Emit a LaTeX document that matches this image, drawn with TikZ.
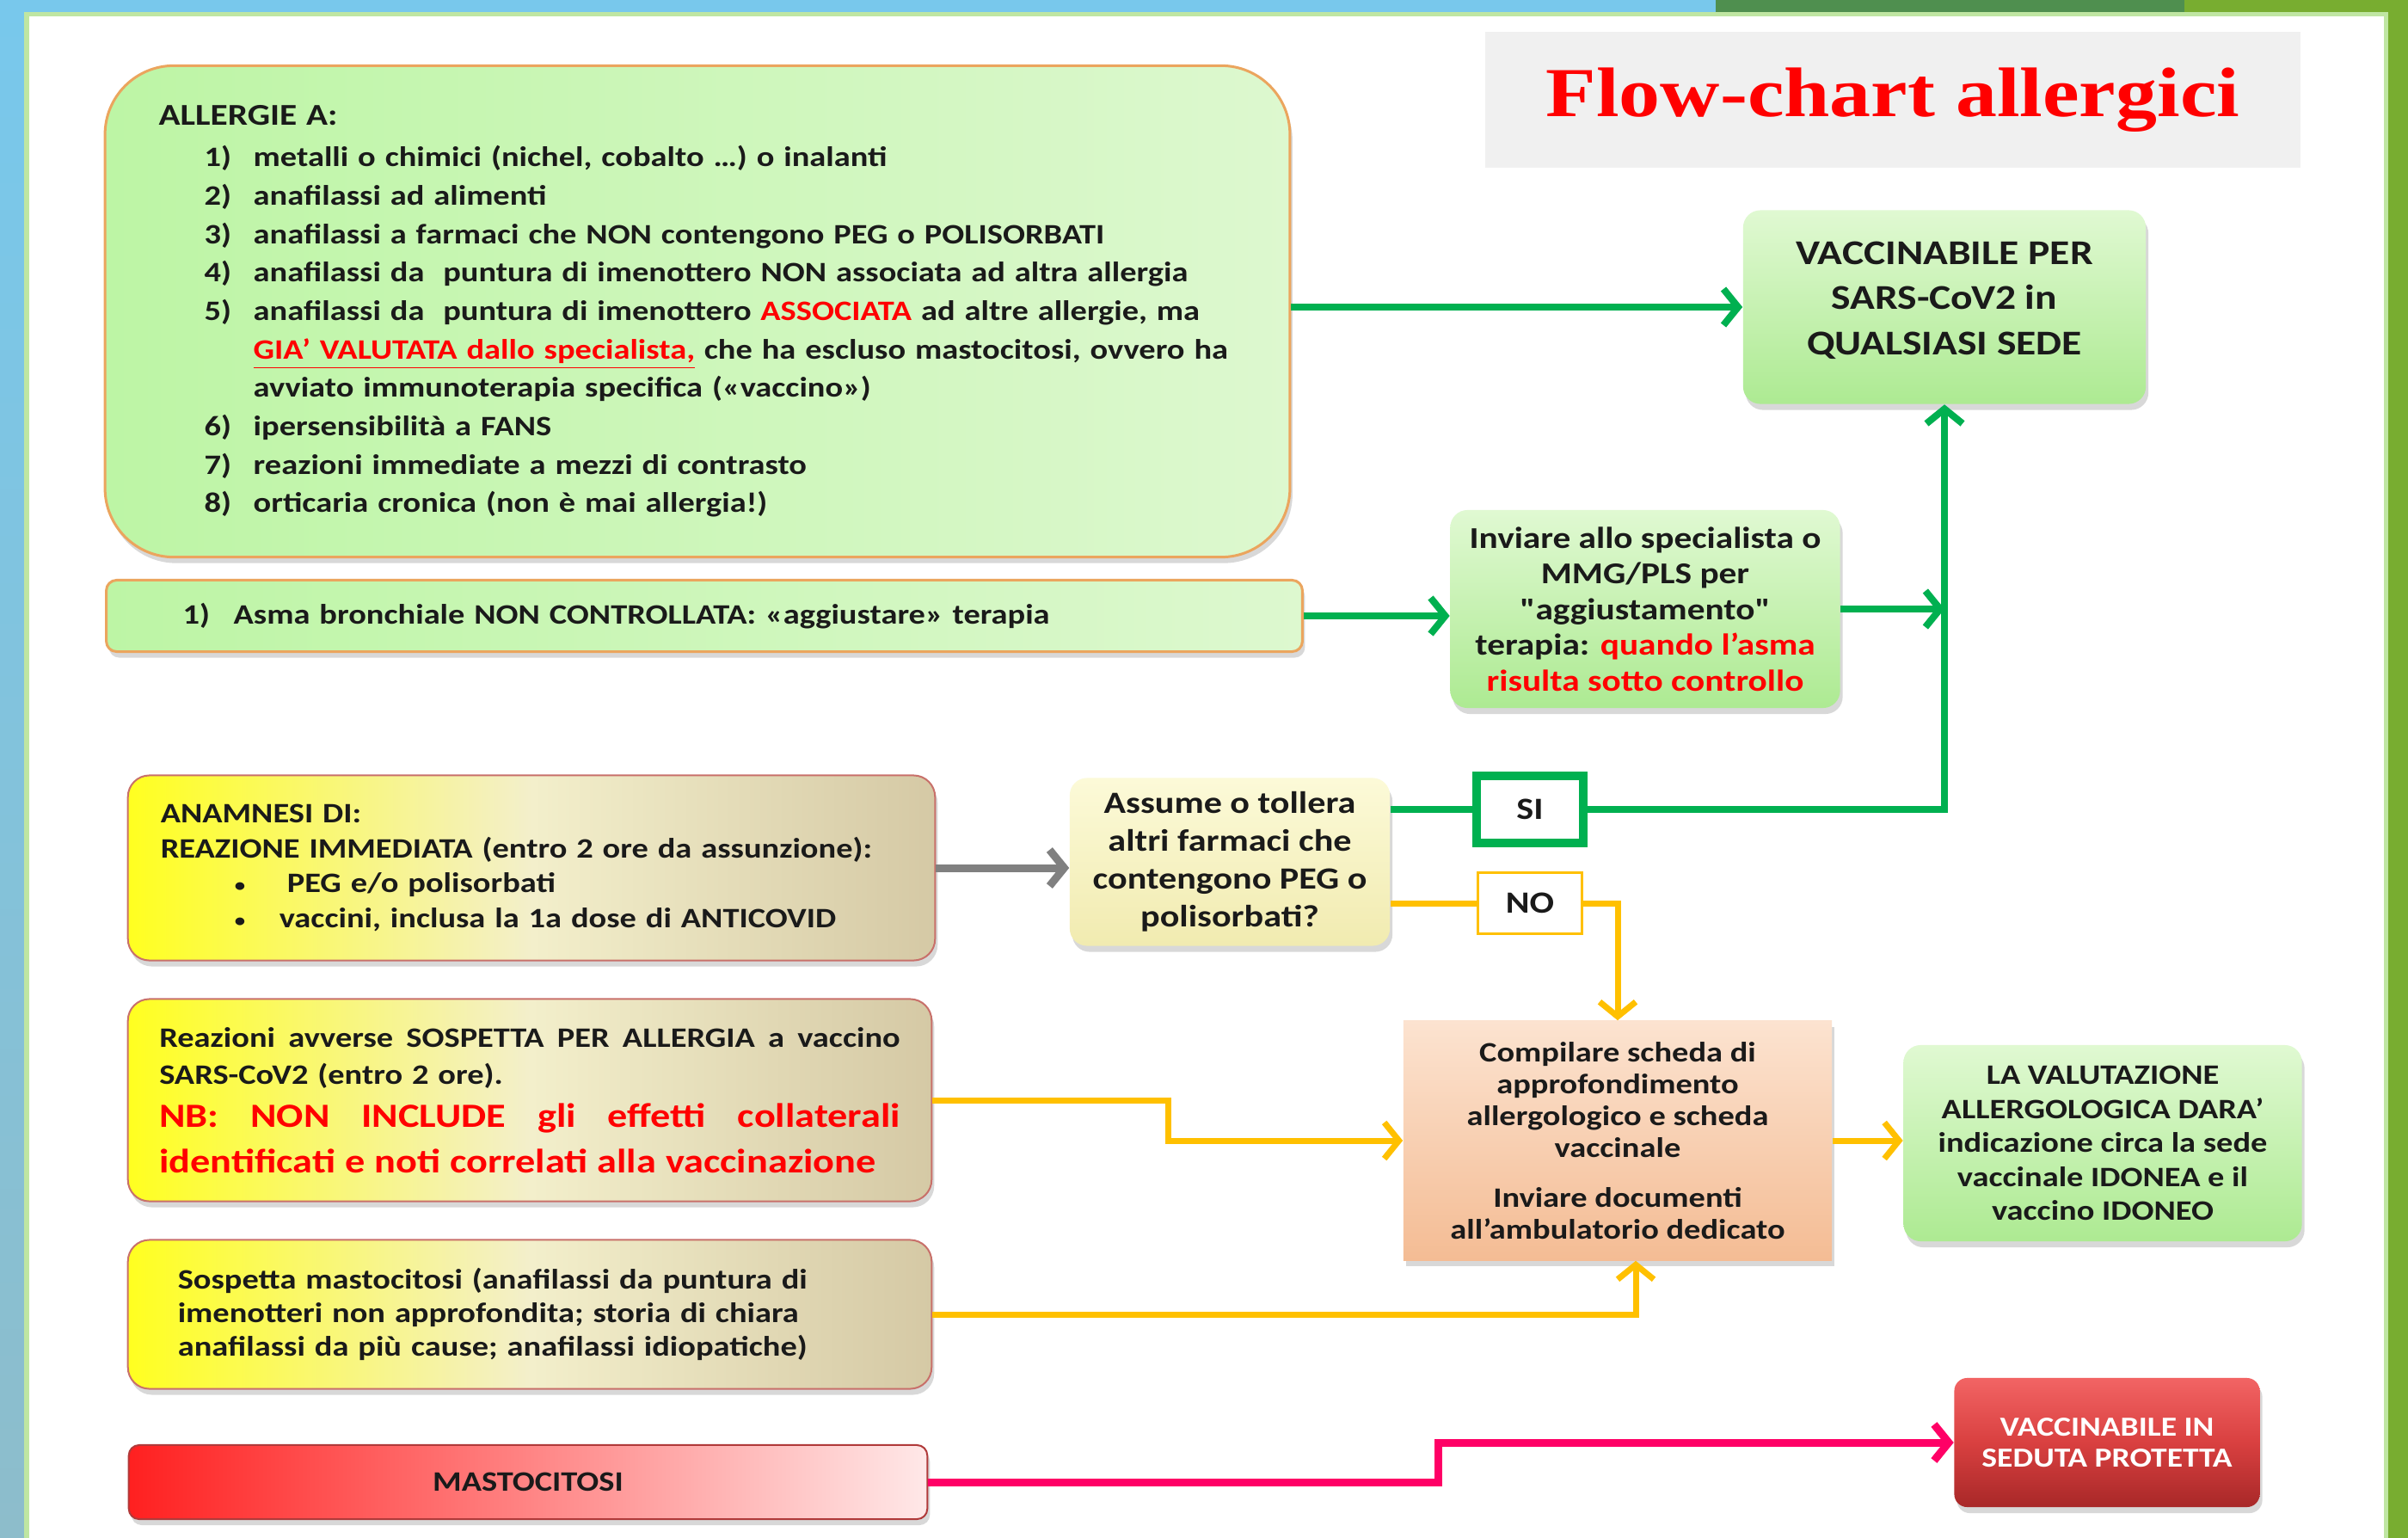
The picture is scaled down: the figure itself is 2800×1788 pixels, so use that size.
\documentclass[tikz,border=0pt]{standalone}
\usepackage{fontspec}
\setmainfont[FakeStretch=1.175]{Carlito}
\newfontfamily\plainq[FakeStretch=1.175]{Carlito}
\newfontfamily\titlefont[FakeStretch=1.175]{Liberation Serif}
\usepackage{xcolor}
\usetikzlibrary{arrows.meta, shadows}
\definecolor{skyblue}{HTML}{78C8EC}
\definecolor{skygrey}{HTML}{8DBDCB}
\definecolor{darkleaf}{HTML}{4F8F4F}
\definecolor{oliveleaf}{HTML}{78AD30}
\definecolor{paneledge}{HTML}{BFE6A2}
\definecolor{titlegrey}{HTML}{F0F0F0}
\definecolor{alertred}{HTML}{FF0000}
\definecolor{yesgreen}{HTML}{00B050}
\definecolor{nogold}{HTML}{FFC000}
\definecolor{mastpink}{HTML}{FF0066}
\definecolor{linkgrey}{HTML}{808080}
\definecolor{leafA}{HTML}{BDF5A5}
\definecolor{leafB}{HTML}{DDF8CF}
\definecolor{leafedge}{HTML}{EBA55E}
\definecolor{sunA}{HTML}{FFFF20}
\definecolor{sunB}{HTML}{F3EFCB}
\definecolor{sunC}{HTML}{D5C9A5}
\definecolor{sunedge}{HTML}{C8706A}
\definecolor{okA}{HTML}{E0F9D2}
\definecolor{okB}{HTML}{ADEA92}
\definecolor{askA}{HTML}{FCFAD8}
\definecolor{askB}{HTML}{F1EBB0}
\definecolor{peachA}{HTML}{FCE3D0}
\definecolor{peachB}{HTML}{F4BC94}
\definecolor{mastA}{HTML}{FF2020}
\definecolor{mastB}{HTML}{FFE8E8}
\definecolor{mastedge}{HTML}{B03A3A}
\definecolor{protA}{HTML}{F26464}
\definecolor{protB}{HTML}{D94040}
\definecolor{protC}{HTML}{A82828}
\definecolor{inktext}{HTML}{1A1A1A}

\newcommand{\itm}[1]{\hspace*{0.53cm}\makebox[0.57cm][l]{#1}}
\newcommand{\cnt}{\hspace*{1.1cm}}
\newcommand{\bul}{\hspace*{0.86cm}\makebox[0.52cm][l]{\raisebox{0.1ex}{\fontsize{6}{6}\selectfont•}}}
\newcommand{\alert}[1]{\textcolor{alertred}{#1}}
\newcommand{\dq}{{\plainq\bfseries"}}

\begin{document}
\begin{tikzpicture}[x=0.01cm, y=-0.01cm,
    panel/.style={drop shadow={opacity=0.3, shadow xshift=0.03cm, shadow yshift=-0.07cm}},
    allbox/.style={panel, left color=leafA, right color=leafB, draw=leafedge, line width=0.03cm, rounded corners=0.8cm, align=left, text=inktext, font=\fontsize{9.3}{12.7}\selectfont\bfseries},
    asmabox/.style={allbox, rounded corners=0.12cm},
    okbox/.style={panel, top color=okA, bottom color=okB, rounded corners=0.2cm, align=center, text=inktext},
    askbox/.style={panel, top color=askA, bottom color=askB, rounded corners=0.2cm, align=center, text=inktext, font=\fontsize{10.2}{12.5}\selectfont\bfseries},
    sunbox/.style={panel, left color=sunA, right color=sunC, middle color=sunB, draw=sunedge, line width=0.02cm, rounded corners=0.25cm, align=left, text=inktext, font=\fontsize{9.3}{11.6}\selectfont\bfseries},
    tagbox/.style={fill=white, text=inktext, font=\fontsize{10.2}{12}\selectfont\bfseries},
    compbox/.style={panel, top color=peachA, bottom color=peachB, align=center, text=inktext, font=\fontsize{9.3}{10.5}\selectfont\bfseries},
    mastbox/.style={panel, left color=mastA, right color=mastB, draw=mastedge, line width=0.02cm, rounded corners=0.12cm, text=inktext, font=\fontsize{9.3}{11}\selectfont\bfseries},
    protbox/.style={panel, top color=protA, bottom color=protC, middle color=protB, rounded corners=0.15cm, align=center, text=white, font=\fontsize{9.1}{10.2}\selectfont\bfseries},
    garrow/.style={line width=0.08cm, draw=yesgreen, -{Straight Barb[length=0.17cm, width=0.42cm]}},
    oarrow/.style={garrow, draw=nogold, line width=0.07cm},
    grarrow/.style={garrow, draw=linkgrey, line width=0.09cm},
    parrow/.style={garrow, draw=mastpink, line width=0.09cm}
]
    \useasboundingbox (0,0) rectangle (2800,1788);

    % slide background
    \shade[top color=skyblue, bottom color=skygrey] (0,0) rectangle (30,1788);
    \fill[skyblue] (0,0) rectangle (1995,15);
    \fill[darkleaf] (1995,0) rectangle (2540,15);
    \fill[oliveleaf] (2540,0) rectangle (2800,15);
    \fill[oliveleaf] (2776,0) rectangle (2800,1788);
    \fill[white] (30,15) rectangle (2776,1788);
    \draw[paneledge, line width=0.05cm] (31,1788) -- (31,17) -- (2774,17) -- (2774,1788);

    % title
    \node[fill=titlegrey, minimum width=9.48cm, minimum height=1.57cm, text=alertred, font=\titlefont\fontsize{23.2}{27}\selectfont\bfseries] (title) at (2201,116) {Flow-chart allergici};

    % green column
    \node[allbox, minimum width=13.77cm, minimum height=5.71cm, text width=12.52cm] (allergie) at (811,362) {%
        {\fontsize{10}{12.7}\selectfont ALLERGIE A:}\\[1pt]
        \itm{1)}metalli o chimici (nichel, cobalto …) o inalanti\\
        \itm{2)}anafilassi ad alimenti\\
        \itm{3)}anafilassi a farmaci che NON contengono PEG o POLISORBATI\\
        \itm{4)}anafilassi da\ \ puntura di imenottero NON associata ad altra allergia\\
        \itm{5)}anafilassi da\ \ puntura di imenottero \alert{ASSOCIATA} ad altre allergie, ma\\
        \cnt\alert{\underline{GIA’ VALUTATA dallo specialista,}} che ha escluso mastocitosi, ovvero ha\\
        \cnt avviato immunoterapia specifica («vaccino»)\\
        \itm{6)}ipersensibilità a FANS\\
        \itm{7)}reazioni immediate a mezzi di contrasto\\
        \itm{8)}orticaria cronica (non è mai allergia!)};
    \node[asmabox, minimum width=13.9cm, minimum height=0.83cm, text width=12.12cm] (asma) at (819,716) {\makebox[0.59cm][l]{1)}Asma bronchiale NON CONTROLLATA: «aggiustare» terapia};
    \node[okbox, minimum width=4.68cm, minimum height=2.25cm, font=\fontsize{11.5}{15}\selectfont\bfseries] (vaccinabile) at (2261,357) {VACCINABILE PER\\SARS-CoV2 in\\QUALSIASI SEDE\\[-0.32cm]};
    \node[okbox, minimum width=4.53cm, minimum height=2.3cm, font=\fontsize{10}{11.8}\selectfont\bfseries] (inviare) at (1913,708) {Inviare allo specialista o\\MMG/PLS per\\\dq aggiustamento\dq\\terapia: \alert{quando l’asma}\\\alert{risulta sotto controllo}};

    % yellow column
    \node[sunbox, minimum width=9.38cm, minimum height=2.15cm, text width=8.62cm] (anamnesi) at (618,1009) {%
        ANAMNESI DI:\\
        REAZIONE IMMEDIATA (entro 2 ore da assunzione):\\
        \bul\hspace*{0.09cm}PEG e/o polisorbati\\
        \bul vaccini, inclusa la 1a dose di ANTICOVID};
    \node[sunbox, minimum width=9.34cm, minimum height=2.35cm, text width=8.61cm, font=\fontsize{9.3}{12.2}\selectfont\bfseries] (reazioni) at (616,1279) {%
        \makebox[8.61cm][l]{Reazioni\hfill avverse\hfill SOSPETTA\hfill PER\hfill ALLERGIA\hfill a\hfill vaccino}\\
        SARS-CoV2 (entro 2 ore).\\[2pt]
        {\color{alertred}\fontsize{11.2}{12.2}\selectfont\makebox[8.61cm][l]{NB:\hfill NON\hfill INCLUDE\hfill gli\hfill effetti\hfill collaterali}}\\[3pt]
        {\color{alertred}\fontsize{11.2}{12.2}\selectfont identificati e noti correlati alla vaccinazione}};
    \node[sunbox, minimum width=9.34cm, minimum height=1.73cm, text width=8.18cm, font=\fontsize{9.3}{11.1}\selectfont\bfseries] (sospetta) at (616,1528) {%
        Sospetta mastocitosi (anafilassi da puntura di\\
        imenotteri non approfondita; storia di chiara\\
        anafilassi da più cause; anafilassi idiopatiche)};
    \node[mastbox, minimum width=9.28cm, minimum height=0.86cm] (mastocitosi) at (614,1723) {MASTOCITOSI};

    % decision
    \node[askbox, minimum width=3.72cm, minimum height=1.95cm] (ask) at (1430,1002) {Assume o tollera\\altri farmaci che\\contengono PEG o\\polisorbati?};
    \node[tagbox, draw=yesgreen, line width=0.1cm, minimum width=1.23cm, minimum height=0.78cm] (si) at (1779,941) {SI};
    \node[tagbox, draw=nogold, line width=0.03cm, minimum width=1.2cm, minimum height=0.71cm] (no) at (1779,1050) {NO};
    \node[compbox, minimum width=4.98cm, minimum height=2.78cm] (compila) at (1881,1326) {Compilare scheda di\\approfondimento\\allergologico e scheda\\vaccinale\\[6pt]Inviare documenti\\all’ambulatorio dedicato};
    \node[okbox, minimum width=4.63cm, minimum height=2.28cm, font=\fontsize{9.3}{11.2}\selectfont\bfseries] (valuta) at (2445,1329) {LA VALUTAZIONE\\ALLERGOLOGICA DARA’\\indicazione circa la sede\\vaccinale IDONEA e il\\vaccino IDONEO};
    \node[protbox, minimum width=3.55cm, minimum height=1.5cm] (protetta) at (2450,1677) {VACCINABILE IN\\SEDUTA PROTETTA};

    % connections
    \draw[garrow] (allergie.east |- vaccinabile.west) -- (vaccinabile.west);
    \draw[garrow] (asma.east) -- (asma.east -| inviare.west);
    \draw[garrow] (inviare.east) -- (inviare.east -| vaccinabile.south);
    \draw[yesgreen, line width=0.08cm] (ask.east |- si.west) -- (si.west);
    \draw[garrow] (si.east) -| (vaccinabile.south);
    \draw[nogold, line width=0.07cm] (ask.east |- no.west) -- (no.west);
    \draw[oarrow] (no.east) -| (compila.north);
    \draw[grarrow] (anamnesi.east) -- (anamnesi.east -| ask.west);
    \draw[oarrow] (reazioni.east) -- ++(274,0) |- (compila.west);
    \draw[oarrow] (sospetta.east) -| ([xshift=0.21cm]compila.south);
    \draw[oarrow] (compila.east) -- (compila.east -| valuta.west);
    \draw[parrow] (mastocitosi.east) -- ++(593,0) |- (protetta.west);
\end{tikzpicture}
\end{document}
